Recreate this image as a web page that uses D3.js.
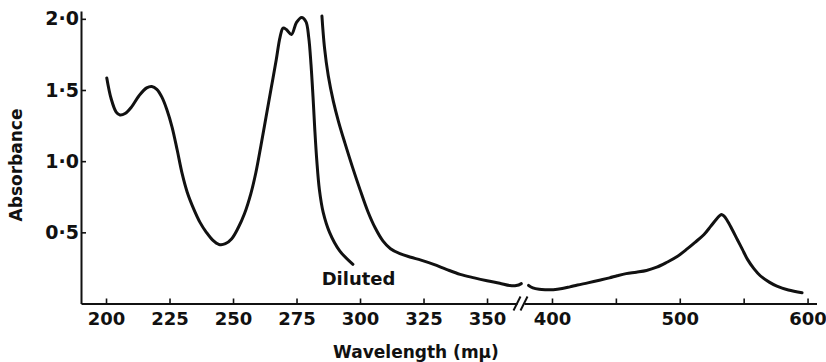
<!DOCTYPE html>
<html><head><meta charset="utf-8">
<script src="https://cdn.jsdelivr.net/npm/d3@7"></script>
<style>
body{margin:0;background:#fff}
svg text{font-family:"DejaVu Sans",sans-serif;font-weight:bold;fill:#111}
</style></head><body><svg id="c" width="826" height="362"></svg>
<script>
// ---- data ----
const dilutedWl  = [200.3,202,204,205.5,207.5,210,213,216,218,220,222,224,226,228,230,232,234.5,237,239.5,242,244.5,247,249.5,252,254.5,257,259,261,263,265,267,268.5,269.7,271,273,275,277,278.7,279.8,280.7,281.5,282.2,283,284,285.5,288,292,297.2];
const dilutedAbs = [1.585,1.44,1.345,1.325,1.335,1.38,1.46,1.515,1.525,1.505,1.45,1.36,1.24,1.08,0.91,0.78,0.665,0.57,0.50,0.445,0.415,0.42,0.455,0.53,0.63,0.77,0.92,1.11,1.31,1.51,1.71,1.87,1.935,1.925,1.89,1.975,2.01,1.98,1.87,1.68,1.45,1.22,1.0,0.80,0.64,0.50,0.37,0.275];

const concUvWl  = [285.0,286,287.5,289.5,291.5,294,297,300,303,306,309,312,315.7,320,324,329,334,339.4,345,350,355,359,361.5,363.5];
const concUvAbs = [2.02,1.80,1.60,1.42,1.28,1.13,0.96,0.80,0.65,0.53,0.44,0.385,0.35,0.325,0.305,0.275,0.24,0.205,0.18,0.16,0.142,0.126,0.126,0.14];

const concVisWl  = [381.7,385,390,395,401,408,414,420,428,438,445,451,458,466,474,482,490,498,506,512,519,524,528,531,532.5,534.5,537,541,545,549,553,558,563,570,576,585,595.7];
const concVisAbs = [0.127,0.11,0.10,0.097,0.097,0.105,0.117,0.13,0.145,0.165,0.18,0.195,0.21,0.22,0.232,0.255,0.29,0.33,0.385,0.43,0.485,0.54,0.585,0.615,0.625,0.615,0.585,0.52,0.45,0.38,0.31,0.245,0.195,0.15,0.122,0.095,0.075];

const xTicksLeft  = [200,225,250,275,300,325,350];
const xTicksRight = [400,450,500,550,600];
const xLabelsRight = [400,500,600];
const yTicks = [0.5,1.0,1.5,2.0];
const labelDiluted = "Diluted";
const xTitle = "Wavelength (m\u03bc)";
const yTitle = "Absorbance";

// ---- scales (broken x axis) ----
const xL = d3.scaleLinear().domain([190.15, 361.8]).range([81, 517]);
const xR = d3.scaleLinear().domain([378.1, 607]).range([524, 816.5]);
const y  = d3.scaleLinear().domain([0, 2.055]).range([303.5, 11]);
const X = w => (w < 370 ? xL(w) : xR(w));

const svg = d3.select("#c");

function styleAxis(g){
  g.select(".domain").attr("stroke","#111").attr("stroke-width",2);
  g.selectAll(".tick line").attr("stroke","#111").attr("stroke-width",1.6);
  g.selectAll(".tick text").style("font-size","18px").attr("fill","#111");
}

// x axis left
svg.append("g").attr("transform",`translate(0,${y(0)})`)
  .call(d3.axisBottom(xL).tickValues(xTicksLeft).tickSizeInner(-5).tickSizeOuter(0).tickPadding(9))
  .call(styleAxis);
// x axis right
svg.append("g").attr("transform",`translate(0,${y(0)})`)
  .call(d3.axisBottom(xR).tickValues(xTicksRight).tickSizeInner(-5).tickSizeOuter(0).tickPadding(9)
        .tickFormat(d => xLabelsRight.includes(d) ? d : ""))
  .call(styleAxis);
// y axis
svg.append("g").attr("transform",`translate(${xL.range()[0]},0)`)
  .call(d3.axisLeft(y).tickValues(yTicks).tickSizeInner(-5).tickSizeOuter(0).tickPadding(2)
        .tickFormat(d => d3.format(".1f")(d).replace(".","\u00b7")))
  .call(styleAxis);
svg.selectAll("g").filter(function(){return this.querySelector(".tick text") && this.getAttribute("transform").startsWith("translate(81");})
  .selectAll(".tick text").style("font-size","19px");

// break marks
const bx1 = xL.range()[1], bx2 = xR.range()[0], by = y(0);
[bx1, bx2].forEach(bx => {
  svg.append("line").attr("x1",bx-3.5).attr("y1",by+7).attr("x2",bx+3.5).attr("y2",by-7)
    .attr("stroke","#111").attr("stroke-width",2);
});

// curves
const line = d3.line().x(d => X(d[0])).y(d => y(d[1])).curve(d3.curveCatmullRom.alpha(0.5));
const series = [
  d3.zip(dilutedWl, dilutedAbs),
  d3.zip(concUvWl, concUvAbs),
  d3.zip(concVisWl, concVisAbs)
];
svg.selectAll("path.curve").data(series).join("path").attr("class","curve")
  .attr("d", line).attr("fill","none").attr("stroke","#111").attr("stroke-width",3)
  .attr("stroke-linejoin","round").attr("stroke-linecap","round");

// annotation
svg.append("text").attr("x", xL(284.9)).attr("y", y(0.13)).style("font-size","18px").text(labelDiluted);

// titles
svg.append("text").attr("x", 416).attr("y", 358).attr("text-anchor","middle").style("font-size","17px").text(xTitle);
svg.append("text").attr("transform","translate(22,165) rotate(-90)").attr("text-anchor","middle").style("font-size","17px").text(yTitle);
</script></body></html>
